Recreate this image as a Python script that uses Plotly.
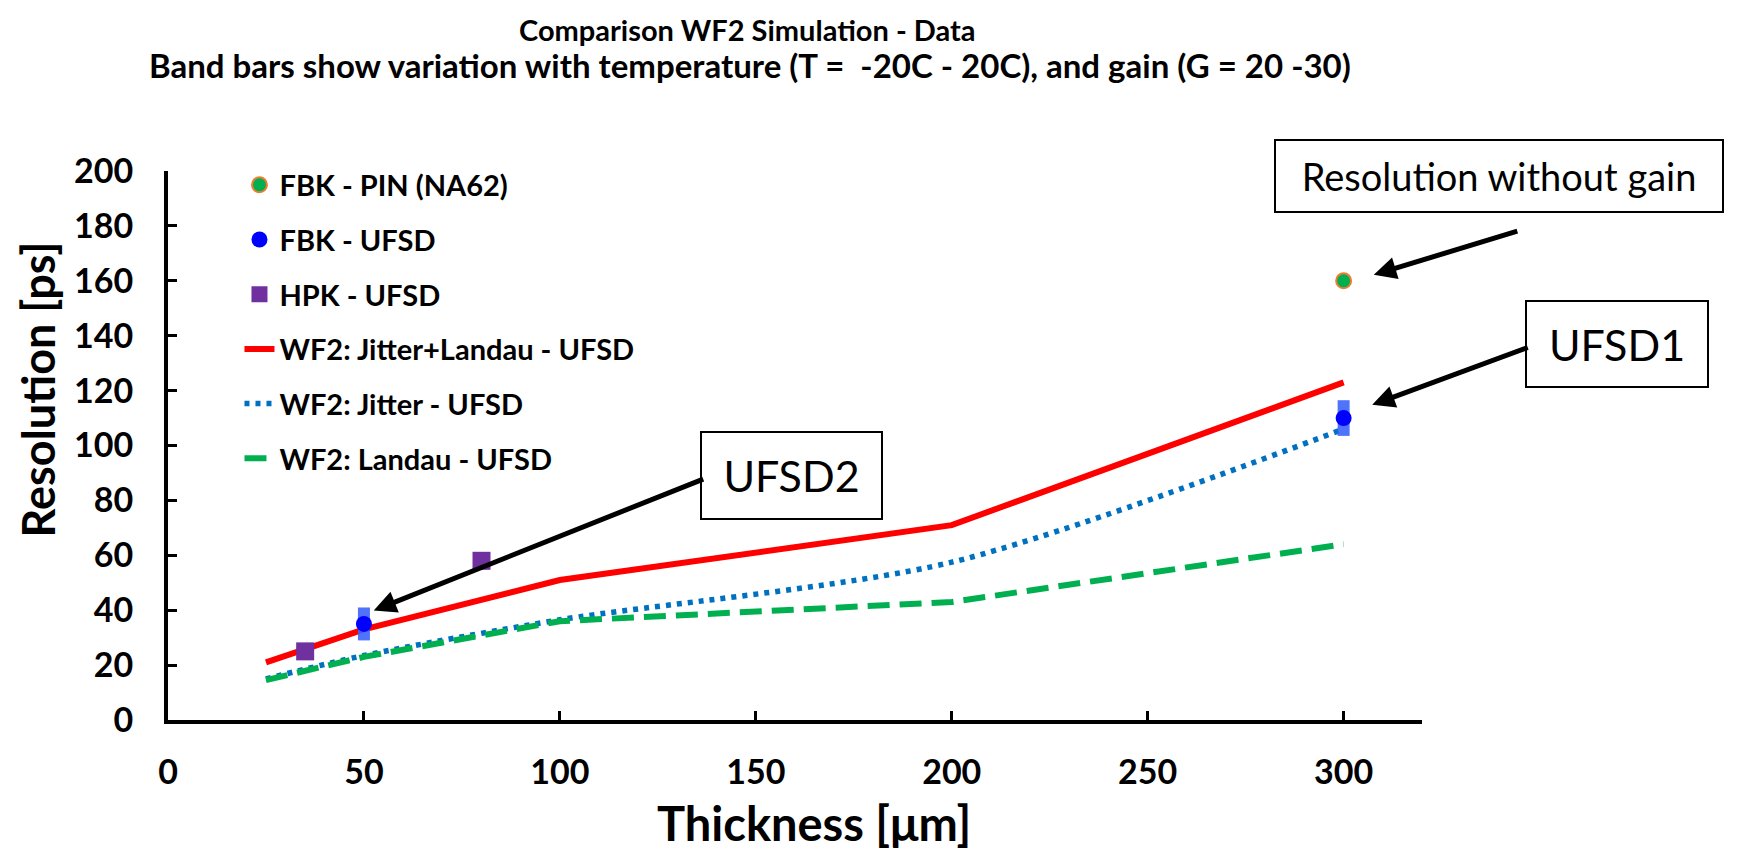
import plotly.graph_objects as go

# ---- data ----
thickness_sim = [25, 50, 100, 200, 300]
jitter_landau = [21, 33, 51, 71, 123]
jitter = [15, 23.5, 36.5, 57.5, 106]
landau = [14.5, 23, 36, 43, 64]

pin_x = [300]
pin_y = [160]

fbk_x = [50, 300]
fbk_y = [35, 110]
fbk_band = [6, 6.5]

hpk_x = [35, 80]
hpk_y = [25, 58]

x_ticks = [0, 50, 100, 150, 200, 250, 300]
y_ticks = [0, 20, 40, 60, 80, 100, 120, 140, 160, 180, 200]

FONT = "Lato"
BOLD = dict(family=FONT, weight="bold", color="black")

fig = go.Figure()

# simulation lines
fig.add_trace(go.Scatter(
    x=thickness_sim, y=jitter_landau, mode="lines",
    name="WF2: Jitter+Landau - UFSD", legendgroup="g4", legendrank=4,
    line=dict(color="#FF0000", width=6)))
fig.add_trace(go.Scatter(
    x=thickness_sim, y=jitter, mode="lines",
    name="WF2: Jitter - UFSD", legendgroup="g5", legendrank=5,
    line=dict(color="#0070C0", width=5.5, dash="5px,6px", shape="spline", smoothing=0.8)))
fig.add_trace(go.Scatter(
    x=thickness_sim, y=landau, mode="lines",
    name="WF2: Landau - UFSD", legendgroup="g6", legendrank=6,
    line=dict(color="#00B050", width=6, dash="22px,10px")))

# data points
fig.add_trace(go.Scatter(
    x=pin_x, y=pin_y, mode="markers",
    name="FBK - PIN (NA62)", legendgroup="g1", legendrank=1,
    marker=dict(color="#00B050", size=15, symbol="circle",
                line=dict(color="#ED7D31", width=2))))
fig.add_trace(go.Scatter(
    x=fbk_x, y=fbk_y, mode="markers",
    name="FBK - UFSD", legendgroup="g2", legendrank=2,
    marker=dict(color="#0000FF", size=16, symbol="circle"),
    error_y=dict(type="data", array=fbk_band, symmetric=True,
                 color="rgba(60,100,250,0.9)", thickness=12, width=0)))
fig.add_trace(go.Scatter(
    x=hpk_x, y=hpk_y, mode="markers",
    name="HPK - UFSD", legendgroup="g3", legendrank=3,
    marker=dict(color="#7030A0", size=18, symbol="square")))

annotations = [
    dict(text="Comparison WF2 Simulation - Data", xref="paper", yref="paper",
         x=0.4616, y=1.258, xanchor="center", yanchor="middle", showarrow=False,
         font=dict(size=29, **BOLD)),
    dict(text="Band bars show variation with temperature (T =  -20C - 20C), and gain (G = 20 -30)",
         xref="paper", yref="paper", x=0.4641, y=1.193, xanchor="center", yanchor="middle",
         showarrow=False, font=dict(size=33, **BOLD)),
    dict(text="Resolution [ps]", xref="paper", yref="paper", x=-0.1035, y=0.6025,
         xanchor="center", yanchor="middle", textangle=-90, showarrow=False,
         font=dict(size=45, **BOLD)),
    dict(text="Thickness [μm]", xref="paper", yref="paper", x=0.515, y=-0.188,
         xanchor="center", yanchor="middle", showarrow=False,
         font=dict(size=47, **BOLD)),
    # boxes
    dict(text="Resolution without gain", xref="paper", yref="paper", x=1.0615, y=0.990,
         xanchor="center", yanchor="middle", showarrow=False, width=446, height=70,
         borderpad=0, bordercolor="black", borderwidth=2, bgcolor="white",
         font=dict(family=FONT, size=38, color="black")),
    dict(text="UFSD1", xref="paper", yref="paper", x=1.1559, y=0.6845,
         xanchor="center", yanchor="middle", showarrow=False, width=180, height=84,
         borderpad=0, bordercolor="black", borderwidth=2, bgcolor="white",
         font=dict(family=FONT, size=43, color="black")),
    dict(text="UFSD2", xref="paper", yref="paper", x=0.4976, y=0.445,
         xanchor="center", yanchor="middle", showarrow=False, width=179, height=85,
         borderpad=0, bordercolor="black", borderwidth=2, bgcolor="white",
         font=dict(family=FONT, size=43, color="black")),
    # arrows
    dict(text="", x=307.7, y=162.2, xref="x", yref="y", ax=145, ay=-44,
         showarrow=True, arrowhead=2, arrowsize=0.9, arrowwidth=5, arrowcolor="black"),
    dict(text="", x=307.3, y=114.8, xref="x", yref="y", ax=157, ay=-58,
         showarrow=True, arrowhead=2, arrowsize=0.9, arrowwidth=5, arrowcolor="black"),
    dict(text="", x=52.5, y=39.9, xref="x", yref="y", ax=331, ay=-132,
         showarrow=True, arrowhead=2, arrowsize=0.9, arrowwidth=5, arrowcolor="black"),
]

fig.update_layout(
    width=1746, height=848,
    margin=dict(l=160, r=332, t=163, b=136),
    paper_bgcolor="white", plot_bgcolor="white",
    showlegend=True,
    legend=dict(x=0.057, y=1.021, xanchor="left", yanchor="top",
                bgcolor="rgba(0,0,0,0)", tracegroupgap=14,
                font=dict(size=29, **BOLD)),
    annotations=annotations,
)
fig.update_xaxes(range=[0, 320], tickvals=x_ticks, showgrid=False, zeroline=False,
                 showline=True, linecolor="black", linewidth=4,
                 ticks="inside", ticklen=9, tickwidth=3, tickcolor="black",
                 ticklabelstandoff=19, tickfont=dict(size=34, **BOLD))
fig.update_yaxes(range=[0, 200], tickvals=y_ticks, showgrid=False, zeroline=False,
                 showline=True, linecolor="black", linewidth=4,
                 ticks="inside", ticklen=9, tickwidth=3, tickcolor="black",
                 ticklabelstandoff=24, tickfont=dict(size=34, **BOLD))

fig.write_html("out.html")
